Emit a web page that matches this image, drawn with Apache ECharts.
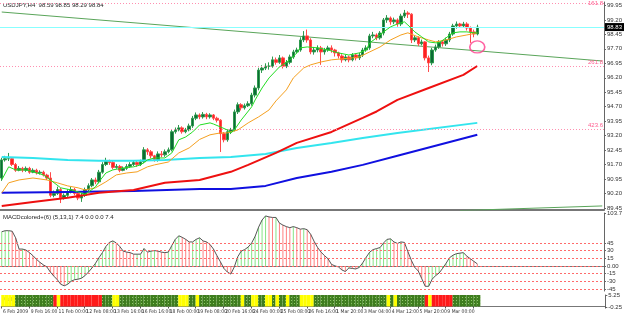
<!DOCTYPE html>
<html>
<head>
<meta charset="utf-8">
<title>USDJPY,H4</title>
<script src="https://cdn.jsdelivr.net/npm/echarts@6/dist/echarts.min.js"></script>
<style>
  html, body { margin: 0; padding: 0; background: #fff; }
  #chart { width: 625px; height: 316px; }
</style>
</head>
<body>
<div id="chart"></div>
<script>
// H4 bars, 6 Feb 2009 .. 10 Mar 2009
var opens = [91.00, 91.94, 92.00, 92.00, 91.70, 91.40, 91.50, 91.40, 91.50, 91.30,
  91.40, 91.26, 91.30, 91.15, 91.00, 90.10, 90.20, 90.40, 89.97, 90.10,
  90.30, 90.40, 90.20, 89.96, 90.10, 90.40, 90.60, 90.90, 90.80, 91.30,
  91.70, 91.85, 91.80, 91.55, 91.60, 91.40, 91.50, 91.60, 91.70, 91.80,
  91.70, 91.84, 92.46, 92.36, 92.15, 91.94, 92.25, 92.20, 92.36, 92.46,
  93.40, 93.50, 93.60, 93.40, 93.50, 93.70, 94.10, 94.27, 94.17, 94.30,
  94.17, 94.27, 94.10, 94.00, 93.30, 92.98, 93.40, 93.50, 94.43, 94.80,
  94.64, 94.75, 94.85, 95.30, 95.67, 96.60, 96.70, 96.80, 96.80, 97.13,
  97.00, 97.23, 96.80, 97.00, 97.28, 97.54, 97.64, 98.16, 98.37, 98.16,
  97.54, 97.64, 97.75, 97.54, 97.64, 97.75, 97.64, 97.49, 97.33, 97.13,
  97.28, 97.13, 97.38, 97.23, 97.38, 97.64, 97.75, 98.37, 98.42, 98.27,
  98.52, 99.20, 99.30, 99.10, 99.20, 98.99, 99.40, 99.56, 99.50, 98.16,
  98.27, 97.96, 98.06, 97.23, 96.97, 97.64, 97.80, 98.06, 97.96, 98.16,
  98.47, 98.89, 98.99, 98.89, 98.99, 98.78, 98.58, 98.47];
var closes = [91.94, 92.00, 92.00, 91.70, 91.40, 91.50, 91.40, 91.50, 91.30, 91.40,
  91.26, 91.30, 91.15, 91.00, 90.10, 90.20, 90.40, 89.97, 90.10, 90.30,
  90.40, 90.20, 89.96, 90.10, 90.40, 90.60, 90.90, 90.80, 91.30, 91.70,
  91.85, 91.80, 91.55, 91.60, 91.40, 91.50, 91.60, 91.70, 91.80, 91.70,
  91.84, 92.46, 92.36, 92.15, 91.94, 92.25, 92.20, 92.36, 92.46, 93.40,
  93.50, 93.60, 93.40, 93.50, 93.70, 94.10, 94.27, 94.17, 94.30, 94.17,
  94.27, 94.10, 94.00, 93.30, 92.98, 93.40, 93.50, 94.43, 94.80, 94.64,
  94.75, 94.85, 95.30, 95.67, 96.60, 96.70, 96.80, 96.80, 97.13, 97.00,
  97.23, 96.80, 97.00, 97.28, 97.54, 97.64, 98.16, 98.37, 98.16, 97.54,
  97.64, 97.75, 97.54, 97.64, 97.75, 97.64, 97.49, 97.33, 97.13, 97.28,
  97.13, 97.38, 97.23, 97.38, 97.64, 97.75, 98.37, 98.42, 98.27, 98.52,
  99.20, 99.30, 99.10, 99.20, 98.99, 99.40, 99.56, 99.50, 98.16, 98.27,
  97.96, 98.06, 97.23, 96.97, 97.64, 97.80, 98.06, 97.96, 98.16, 98.47,
  98.89, 98.99, 98.89, 98.99, 98.78, 98.58, 98.47, 98.83];
var lows = [90.85, 91.85, 91.88, 91.62, 91.32, 91.35, 91.30, 91.32, 91.22, 91.25,
  91.18, 91.18, 91.08, 90.90, 90.00, 90.00, 90.12, 89.70, 89.88, 90.02,
  90.20, 90.10, 89.85, 89.76, 90.02, 90.30, 90.52, 90.68, 90.72, 91.22,
  91.62, 91.68, 91.45, 91.48, 91.30, 91.35, 91.42, 91.52, 91.62, 91.58,
  91.62, 91.76, 92.20, 92.02, 91.85, 91.85, 92.08, 92.10, 92.28, 92.38,
  93.30, 93.42, 93.30, 93.32, 93.42, 93.60, 94.00, 94.05, 94.08, 94.05,
  94.08, 94.00, 93.88, 92.35, 92.85, 92.88, 93.28, 93.42, 94.32, 94.50,
  94.55, 94.68, 94.75, 95.18, 95.55, 96.45, 96.60, 96.62, 96.72, 96.88,
  96.92, 96.68, 96.70, 96.90, 97.18, 97.45, 97.55, 98.05, 98.02, 97.42,
  97.40, 97.52, 96.87, 97.40, 97.55, 97.50, 97.30, 97.20, 96.98, 97.05,
  97.00, 97.05, 97.10, 97.12, 97.28, 97.55, 97.65, 98.25, 98.15, 98.18,
  98.40, 99.05, 98.95, 98.98, 98.85, 98.88, 99.30, 99.30, 98.00, 98.05,
  97.85, 97.88, 97.10, 96.50, 96.85, 97.55, 97.70, 97.82, 97.85, 98.05,
  98.38, 98.75, 98.78, 98.80, 98.65, 98.01, 98.30, 98.40];
var highs = [92.05, 92.15, 92.30, 92.08, 91.78, 91.62, 91.58, 91.60, 91.58, 91.50,
  91.48, 91.40, 91.38, 91.22, 91.30, 90.35, 90.55, 90.48, 90.20, 90.42,
  90.55, 90.48, 90.30, 90.22, 90.50, 90.72, 91.00, 91.02, 91.42, 91.82,
  92.05, 91.95, 91.88, 91.72, 91.68, 91.60, 91.72, 91.82, 91.90, 91.88,
  91.95, 92.60, 92.55, 92.45, 92.20, 92.38, 92.40, 92.48, 92.58, 93.50,
  93.62, 93.75, 93.68, 93.60, 93.82, 94.22, 94.40, 94.35, 94.42, 94.38,
  94.36, 94.32, 94.18, 94.05, 93.38, 93.52, 93.60, 94.55, 94.92, 94.88,
  94.86, 94.98, 95.42, 95.80, 96.72, 96.85, 96.95, 97.00, 97.30, 97.25,
  97.38, 97.30, 97.12, 97.40, 97.65, 97.76, 98.30, 98.62, 98.70, 98.25,
  97.80, 97.88, 97.85, 97.75, 97.86, 97.88, 97.70, 97.55, 97.42, 97.40,
  97.35, 97.48, 97.45, 97.50, 97.75, 97.88, 98.48, 98.58, 98.50, 98.62,
  99.30, 99.45, 99.38, 99.32, 99.28, 99.52, 99.72, 99.65, 99.55, 98.40,
  98.35, 98.18, 98.10, 97.35, 97.75, 97.92, 98.15, 98.15, 98.28, 98.58,
  99.00, 99.12, 99.05, 99.10, 99.08, 98.86, 98.70, 98.95];

// moving averages, sampled as [bar, price]
var maGreen = [[0, 90.90], [2, 91.58], [4, 91.42], [7, 91.42], [9, 91.32], [12, 91.16], [14, 90.90],
  [17, 90.49], [20, 90.38], [22, 90.28], [24, 90.15], [26, 90.40], [27, 90.54], [28, 90.80],
  [30, 91.26], [32, 91.42], [35, 91.52], [38, 91.58], [40, 91.68], [42, 91.94], [44, 92.04],
  [47, 92.04], [49, 92.30], [51, 92.98], [53, 93.13], [55, 93.39], [57, 93.75], [60, 93.86],
  [61, 93.80], [63, 93.65], [65, 93.49], [66, 93.34], [67, 93.49], [69, 94.01], [72, 94.69],
  [73, 95.05], [75, 95.67], [77, 96.19], [80, 96.76], [83, 97.13], [85, 97.49], [86, 97.75],
  [88, 97.80], [91, 97.75], [94, 97.64], [97, 97.49], [100, 97.38], [103, 97.49], [105, 97.64],
  [106, 98.01], [108, 98.27], [110, 98.58], [112, 98.84], [114, 98.99], [116, 99.10], [117, 98.94],
  [119, 98.58], [121, 98.32], [123, 98.06], [125, 98.01], [126, 98.01], [128, 98.27], [130, 98.53],
  [132, 98.58], [134, 98.58], [136, 98.53], [137, 98.53]];
var maOrange = [[0, 90.23], [2, 90.75], [5, 90.90], [9, 91.00], [13, 90.90], [16, 90.75], [19, 90.59],
  [22, 90.49], [24, 90.38], [27, 90.49], [30, 90.80], [33, 91.16], [36, 91.26], [39, 91.32],
  [42, 91.58], [44, 91.68], [48, 91.83], [51, 92.30], [54, 92.56], [57, 93.00], [60, 93.24],
  [63, 93.34], [65, 93.34], [68, 93.49], [71, 93.86], [74, 94.17], [77, 94.53], [79, 95.00],
  [82, 95.57], [84, 96.19], [87, 96.71], [89, 96.87], [92, 97.02], [95, 97.13], [98, 97.18],
  [101, 97.23], [103, 97.28], [106, 97.54], [109, 97.80], [112, 98.16], [115, 98.42], [117, 98.53],
  [120, 98.32], [123, 98.16], [125, 98.06], [128, 98.16], [131, 98.32], [134, 98.42], [137, 98.53]];
var maRed = [[0, 89.55], [9, 89.76], [19, 89.97], [28, 90.23], [38, 90.38], [47, 90.75], [57, 90.90],
  [66, 91.32], [71, 91.68], [79, 92.30], [85, 92.82], [95, 93.39], [104, 94.12], [108, 94.45],
  [114, 95.05], [123, 95.67], [133, 96.35], [137, 96.81]];
var maCyan = [[0, 92.09], [9, 92.04], [19, 91.94], [28, 91.89], [38, 91.89], [47, 91.94], [57, 92.04],
  [66, 92.09], [76, 92.25], [85, 92.56], [95, 92.82], [104, 93.08], [114, 93.34], [137, 93.86]];
var maBlue = [[0, 90.23], [19, 90.28], [38, 90.33], [57, 90.43], [66, 90.43], [76, 90.59], [85, 91.00],
  [95, 91.32], [104, 91.68], [114, 92.15], [137, 93.24]];

var trendUpper = [[0, 99.61], [173, 97.07]];
var trendLower = [[132, 89.31], [173, 89.55]];
var circleMark = [[137, 97.80]];
var bidPrice = 98.83;
var fiboLevels = [100.08, 96.78, 93.53];
var fiboNames = ['161.8', '261.8', '423.6'];
var priceTicks = [99.95, 99.20, 98.45, 97.70, 96.95, 96.20, 95.45, 94.70, 93.95, 93.20, 92.45, 91.70, 90.95, 90.20, 89.45];

// MACDcolored window
var macd = [67, 69, 69, 68, 55, 33, 33, 31, 26, 20,
  13, 7, 2, -2, -12, -20, -27, -36, -39, -36,
  -30, -27, -26, -24, -19, -12, -4, 5, 16, 26,
  38, 46, 49, 45, 38, 29, 27, 26, 23, 23,
  23, 34, 27, 29, 30, 29, 27, 26, 27, 40,
  52, 59, 56, 52, 47, 47, 52, 55, 49, 47,
  42, 33, 20, 8, -5, -12, -16, -2, 18, 29,
  32, 37, 45, 58, 76, 90, 98, 96, 95, 95,
  84, 80, 77, 75, 77, 75, 72, 73, 71, 62,
  48, 36, 27, 20, 14, 3, 0, -2, -8, -11,
  -4, -5, -6, -3, 6, 17, 27, 32, 34, 36,
  45, 52, 53, 47, 44, 47, 46, 28, 11, -3,
  -10, -25, -40, -40, -26, -19, -14, -5, 5, 16,
  21, 24, 25, 26, 19, 14, 9, 4];
var macdLevels = [45, 30, 15, 0, -15, -30, -45];
var macdTicks = [103.7, 45, 30, 15, 0, -15, -30, -45];

// signal strip: 0 green, 1 yellow, 2 red
var signals = [1, 1, 1, 1, 0, 0, 0, 0, 0, 0,
  0, 0, 0, 0, 0, 2, 1, 2, 2, 2,
  2, 2, 2, 2, 2, 2, 2, 2, 2, 0,
  0, 0, 1, 1, 0, 0, 0, 0, 0, 0,
  0, 0, 0, 0, 0, 0, 0, 0, 0, 0,
  0, 1, 1, 1, 0, 0, 1, 0, 0, 0,
  0, 0, 0, 0, 0, 0, 0, 0, 0, 1,
  0, 0, 1, 1, 0, 0, 1, 1, 0, 1,
  0, 0, 1, 0, 0, 0, 1, 1, 1, 1,
  0, 0, 0, 0, 0, 0, 0, 0, 0, 0,
  0, 0, 0, 0, 0, 0, 0, 0, 0, 0,
  0, 1, 0, 1, 0, 0, 0, 0, 0, 0,
  0, 0, 2, 1, 2, 2, 2, 2, 2, 2,
  0, 0, 0, 0, 0, 0, 0, 0];

var dateLabels = ['6 Feb 2009', '9 Feb 16:00', '11 Feb 00:00', '12 Feb 08:00', '13 Feb 16:00',
  '16 Feb 16:00', '18 Feb 00:00', '19 Feb 08:00', '20 Feb 16:00', '24 Feb 00:00', '25 Feb 08:00',
  '26 Feb 16:00', '1 Mar 20:00', '3 Mar 04:00', '4 Mar 12:00', '5 Mar 20:00', '9 Mar 00:00', '10 Mar 08:00'];

var SLOTS = 174; // chart shift leaves empty room on the right
var LABEL_STEP = 8;
var FONT = 'Liberation Sans, Arial, sans-serif';
var NARROW = 'Liberation Sans Narrow, DejaVu Sans Condensed, Liberation Sans, sans-serif';

var slots = [];
for (var i = 0; i < SLOTS; i++) slots.push(i);

var candles = opens.map(function (o, k) {
  return [o, closes[k], lows[k], highs[k]];
});

var sigColors = ['#3e7d1e', '#ffff00', '#ff1a1a'];

var chart = echarts.init(document.getElementById('chart'), null, { renderer: 'canvas' });

function isLabelSlot(k) {
  return k % LABEL_STEP === 0 && k / LABEL_STEP < dateLabels.length;
}

function xAxisFor(idx, showLabels) {
  return {
    type: 'category',
    gridIndex: idx,
    data: slots,
    boundaryGap: true,
    axisLine: { show: true, lineStyle: { color: '#777', width: idx === 0 ? 2 : 1 } },
    axisTick: showLabels ? {
      show: true, length: 2, interval: isLabelSlot, lineStyle: { color: '#555' }
    } : { show: false },
    axisLabel: showLabels ? {
      show: true,
      interval: isLabelSlot,
      showMinLabel: true,
      showMaxLabel: false,
      hideOverlap: false,
      formatter: function (v, k) { return dateLabels[k / LABEL_STEP] || ''; },
      align: 'left',
      margin: 2,
      fontSize: 5,
      fontFamily: NARROW,
      color: '#333'
    } : { show: false },
    splitLine: { show: false }
  };
}

function rightAxis(idx, min, max, ticks, fmt) {
  return {
    type: 'value',
    gridIndex: idx,
    position: 'right',
    min: min,
    max: max,
    scale: true,
    axisLine: { show: true, lineStyle: { color: '#666' } },
    axisTick: { show: true, length: 2, customValues: ticks, lineStyle: { color: '#666' } },
    axisLabel: {
      show: true, customValues: ticks, formatter: fmt,
      margin: 3, fontSize: 6, fontFamily: FONT, color: '#333'
    },
    splitLine: { show: false }
  };
}

var mainMarks = [{
  yAxis: bidPrice,
  lineStyle: { color: '#8ff', type: 'solid', width: 1 },
  label: {
    show: true, position: 'end', formatter: bidPrice.toFixed(2), distance: 1,
    backgroundColor: '#000', color: '#fff', fontSize: 6, fontFamily: FONT, padding: [1, 2]
  }
}];
fiboLevels.forEach(function (lv, k) {
  mainMarks.push({
    yAxis: lv,
    lineStyle: { color: '#ff8fb0', type: [1, 2], width: 1 },
    label: {
      show: true, position: k === 0 ? 'insideEnd' : 'insideEndTop', formatter: fiboNames[k],
      color: '#ff5c8f', fontSize: 6, fontFamily: FONT, distance: 1
    }
  });
});

function maLine(data, color, width, z) {
  return {
    type: 'line', xAxisIndex: 0, yAxisIndex: 0, data: data,
    showSymbol: false, symbol: 'none', smooth: false, silent: true, z: z,
    lineStyle: { color: color, width: width }
  };
}

var option = {
  animation: false,
  backgroundColor: '#ffffff',
  grid: [
    { left: 0, right: 17, top: 2, height: 208 },
    { left: 0, right: 17, top: 213, height: 78 },
    { left: 0, right: 17, top: 295, height: 12 }
  ],
  xAxis: [xAxisFor(0, false), xAxisFor(1, false), xAxisFor(2, true)],
  yAxis: [
    rightAxis(0, 89.34, 100.13, priceTicks, function (v) { return v.toFixed(2); }),
    rightAxis(1, -49.2, 103.7, macdTicks, function (v) { return v === 0 ? '0.00' : String(v); }),
    rightAxis(2, -0.25, 5.25, [5.25, -0.25], function (v) { return v.toFixed(2); })
  ],
  series: [
    maLine(trendUpper, '#5aa55a', 1, 2),
    maLine(trendLower, '#5aa55a', 1, 2),
    {
      type: 'candlestick', xAxisIndex: 0, yAxisIndex: 0, data: candles,
      barWidth: 3, z: 3,
      itemStyle: {
        color: '#0b6b35', color0: '#ff2020',
        borderColor: '#2f9a4e', borderColor0: '#ff4a4a', borderWidth: 1
      },
      markLine: { silent: true, symbol: 'none', data: mainMarks }
    },
    maLine(maBlue, '#1010e0', 2, 4),
    maLine(maCyan, '#33e5ee', 2, 4),
    maLine(maRed, '#ee1010', 2, 4),
    maLine(maOrange, '#f5a020', 1, 5),
    maLine(maGreen, '#22dd22', 1, 5),
    {
      type: 'scatter', xAxisIndex: 0, yAxisIndex: 0, data: circleMark,
      symbol: 'circle', symbolSize: [15, 12], z: 6, silent: true,
      itemStyle: { color: 'rgba(0,0,0,0)', borderColor: '#ff3c8c', borderWidth: 1.5 }
    },
    {
      type: 'bar', xAxisIndex: 1, yAxisIndex: 1, data: macd,
      barWidth: 1, silent: true, z: 2,
      itemStyle: {
        color: function (p) {
          var prev = p.dataIndex > 0 ? macd[p.dataIndex - 1] : macd[0];
          return macd[p.dataIndex] >= prev ? '#86e486' : '#ff8080';
        }
      },
      markLine: {
        silent: true, symbol: 'none', label: { show: false },
        lineStyle: { color: '#ff6b6b', type: [2, 2], width: 1 },
        data: macdLevels.map(function (lv) { return { yAxis: lv }; })
      }
    },
    {
      type: 'line', xAxisIndex: 1, yAxisIndex: 1, data: macd,
      showSymbol: false, symbol: 'none', silent: true, z: 3,
      lineStyle: { color: '#555', width: 1 }
    },
    {
      type: 'bar', xAxisIndex: 2, yAxisIndex: 2, silent: true,
      barWidth: '100%', barCategoryGap: 0,
      data: signals.map(function (s) {
        return {
          value: 5.25,
          itemStyle: {
            color: sigColors[s],
            decal: s === 0 ? {
              symbol: 'rect', symbolSize: 1, color: 'rgba(150,210,110,0.9)',
              dashArrayX: [1, 2], dashArrayY: [1, 2]
            } : null
          }
        };
      })
    }
  ],
  graphic: [
    {
      type: 'text', left: 3, top: 2,
      style: { text: 'USDJPY,H4  98.59 98.85 98.29 98.84', fontSize: 6, fontFamily: FONT, fill: '#222' }
    },
    {
      type: 'text', left: 3, top: 214,
      style: { text: 'MACDcolored+(6) (5,13,1) 7.4 0.0 0.0 7.4', fontSize: 6, fontFamily: FONT, fill: '#222' }
    },
    {
      type: 'text', left: 3, top: 296,
      style: { text: 'MultiSignal 0.00 0.00', fontSize: 5.5, fontFamily: FONT, fill: '#000' }
    },
    {
      type: 'text', left: 3, top: 301,
      style: { text: 'Interbank FX Indicator v4.0 (c) 2008 MetaQuotes Software Corp.', fontSize: 5.5, fontFamily: FONT, fill: '#cfe8a0' }
    }
  ]
};

chart.setOption(option);
</script>
</body>
</html>
